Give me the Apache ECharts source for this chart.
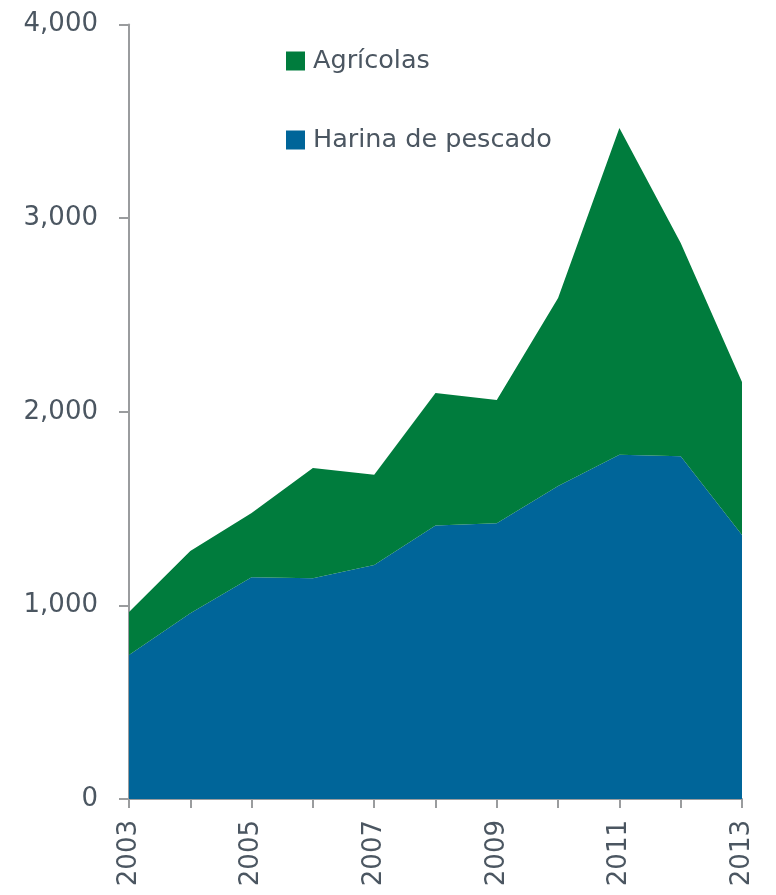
<!DOCTYPE html>
<html>
<head>
<meta charset="utf-8">
<script src="https://cdn.jsdelivr.net/npm/echarts@6/dist/echarts.min.js"></script>
<style>
  html, body { margin: 0; padding: 0; background: #fff; }
  #chart { width: 776px; height: 895px; }
</style>
</head>
<body>
<div id="chart"></div>
<script>
// años
const years = ['2003', '2004', '2005', '2006', '2007', '2008', '2009', '2010', '2011', '2012', '2013']
// valores
const harinaPescado = [744, 959, 1145, 1140, 1209, 1412, 1424, 1617, 1778, 1770, 1364]
const agricolas = [222, 322, 332, 570, 465, 685, 637, 971, 1688, 1102, 790]

const textColor = '#4b5661'
const axisColor = '#9a9c9e'
const fontFamily = '"DejaVu Sans", sans-serif'

const chart = echarts.init(document.getElementById('chart'))

const option = {
  animation: false,
  grid: {
    left: 129,
    right: 34,
    top: 24.5,
    bottom: 96,
    containLabel: false,
  },
  legend: {
    show: true,
    orient: 'vertical',
    left: 286,
    top: 48,
    padding: 0,
    itemWidth: 19,
    itemHeight: 19,
    itemGap: 53,
    icon: 'rect',
    textStyle: {
      color: textColor,
      fontSize: 25.5,
      fontFamily: fontFamily,
      lineHeight: 19,
      padding: [0, 0, 0, 3],
    },
    data: ['Agrícolas', 'Harina de pescado'],
  },
  xAxis: {
    type: 'category',
    boundaryGap: false,
    data: years,
    axisLine: { lineStyle: { color: axisColor, width: 2 } },
    axisTick: { show: true, interval: 0, length: 9, lineStyle: { color: axisColor, width: 2 } },
    axisLabel: {
      interval: 1,
      rotate: 90,
      margin: 21,
      color: textColor,
      fontSize: 26,
      fontFamily: fontFamily,
    },
    splitLine: { show: false },
  },
  yAxis: {
    type: 'value',
    min: 0,
    max: 4000,
    interval: 1000,
    axisLine: { show: true, lineStyle: { color: axisColor, width: 2 } },
    axisTick: { show: true, length: 10, lineStyle: { color: axisColor, width: 2 } },
    axisLabel: {
      margin: 31,
      color: textColor,
      fontSize: 26,
      fontFamily: fontFamily,
      formatter: (v) => v.toLocaleString('en-US'),
    },
    splitLine: { show: false },
  },
  series: [
    {
      name: 'Harina de pescado',
      type: 'line',
      stack: 'total',
      data: harinaPescado,
      symbol: 'none',
      lineStyle: { width: 0 },
      areaStyle: { color: '#006599', opacity: 1 },
      itemStyle: { color: '#006599' },
    },
    {
      name: 'Agrícolas',
      type: 'line',
      stack: 'total',
      data: agricolas,
      symbol: 'none',
      lineStyle: { width: 0 },
      areaStyle: { color: '#007c3d', opacity: 1 },
      itemStyle: { color: '#007c3d' },
    },
  ],
}

chart.setOption(option)
</script>
</body>
</html>
